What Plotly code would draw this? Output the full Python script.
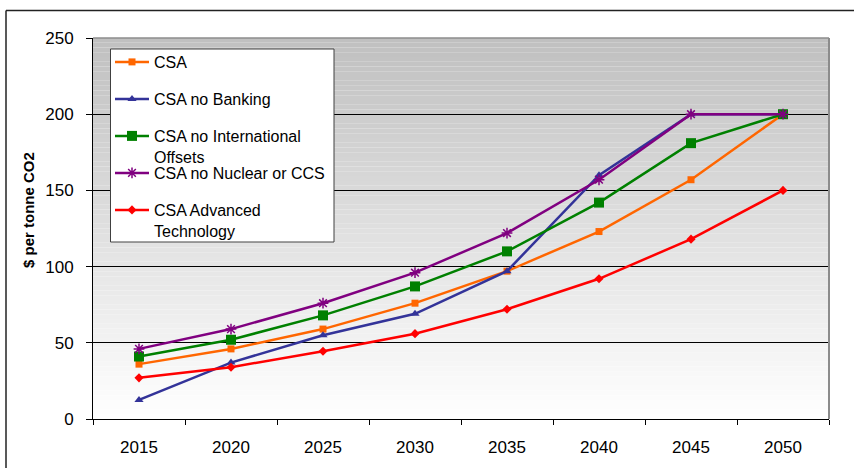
import plotly.graph_objects as go

# Carbon price paths by scenario ($ per tonne CO2)
years = ["2015", "2020", "2025", "2030", "2035", "2040", "2045", "2050"]
csa = [36, 46, 59, 76, 97, 123, 157, 200]
csa_no_banking = [12.5, 37, 55, 69, 97, 160, 200, 200]
csa_no_intl_offsets = [41, 52, 68, 87, 110, 142, 181, 200]
csa_no_nuclear_ccs = [46, 59, 76, 96, 122, 157, 200, 200]
csa_advanced_tech = [27, 34, 44.5, 56, 72, 92, 118, 150]

series_names = [
    "CSA",
    "CSA no Banking",
    "CSA no International<br>Offsets",
    "CSA no Nuclear or CCS",
    "CSA Advanced<br>Technology",
]
series_values = [csa, csa_no_banking, csa_no_intl_offsets, csa_no_nuclear_ccs, csa_advanced_tech]
series_colors = ["#FF6600", "#333399", "#008000", "#800080", "#FF0000"]
series_symbols = ["square", "triangle-up", "square", "asterisk-open", "diamond"]
series_sizes = [7, 8, 10, 9, 7]

W, H = 854, 468
ML, MR, MT, MB = 93, 25, 38, 49
PW, PH = W - ML - MR, H - MT - MB


def px_x(x):
    return (x - ML) / PW


def px_y(y):
    return (H - MB - y) / PH


fig = go.Figure()

legend_ids = ["legend", "legend2", "legend3", "legend4", "legend5"]
for name, vals, col, sym, size, lg in zip(series_names, series_values, series_colors,
                                          series_symbols, series_sizes, legend_ids):
    fig.add_trace(go.Scatter(
        x=years, y=vals, name=name, mode="lines+markers",
        line=dict(color=col, width=2.5),
        marker=dict(symbol=sym, size=size, color=col,
                    line=dict(color=col, width=1.5 if sym == "asterisk-open" else 0)),
        legend=lg, showlegend=True,
    ))

# Vertical grey-to-white gradient behind the plot area
shapes = []
n_bands = 80
for i in range(n_bands):
    t = i / (n_bands - 1)
    g = int(round(192 + (255 - 192) * t))
    shapes.append(dict(
        type="rect", xref="paper", yref="paper", layer="below",
        x0=0, x1=1, y0=1 - (i + 1) / n_bands, y1=1 - i / n_bands,
        fillcolor=f"rgb({g},{g},{g})", line=dict(width=0),
    ))

# Plot-area top and right borders
shapes.append(dict(type="line", xref="paper", yref="paper", x0=0, x1=1, y0=1, y1=1,
                   line=dict(color="#8c8c8c", width=1.5)))
shapes.append(dict(type="line", xref="paper", yref="paper", x0=1, x1=1, y0=0, y1=1,
                   line=dict(color="#8c8c8c", width=2)))

# Legend box
shapes.append(dict(type="rect", xref="paper", yref="paper", layer="above",
                   x0=px_x(110.5), x1=px_x(334), y0=px_y(242), y1=px_y(49),
                   fillcolor="white", line=dict(color="#404040", width=1)))

# Chart frame
shapes.append(dict(type="line", xref="paper", yref="paper",
                   x0=px_x(6), x1=px_x(W + 5), y0=px_y(10.5), y1=px_y(10.5),
                   line=dict(color="#222222", width=1.5)))
shapes.append(dict(type="line", xref="paper", yref="paper",
                   x0=px_x(6), x1=px_x(6), y0=px_y(10.5), y1=px_y(H + 5),
                   line=dict(color="#222222", width=1.5)))

font = dict(family="Liberation Sans, Arial, sans-serif", size=16, color="black")
tick_font = dict(family="Liberation Sans, Arial, sans-serif", size=17, color="black")

layout_legends = {}
legend_tops = [45, 82, 119, 156, 193]
for lg, top in zip(legend_ids, legend_tops):
    layout_legends[lg] = dict(
        x=px_x(110), y=px_y(top), xanchor="left", yanchor="top",
        bgcolor="rgba(0,0,0,0)", borderwidth=0, font=font,
        valign="top", itemwidth=34,
    )

fig.update_layout(
    width=W, height=H,
    margin=dict(l=ML, r=MR, t=MT, b=MB),
    paper_bgcolor="white",
    plot_bgcolor="white",
    font=font,
    shapes=shapes,
    annotations=[dict(
        text="<b>$ per tonne CO2</b>", textangle=-90, showarrow=False,
        xref="paper", yref="paper", x=px_x(28), y=px_y(210),
        xanchor="center", yanchor="middle",
        font=dict(family="Liberation Sans, Arial, sans-serif", size=15, color="black"),
    )],
    **layout_legends,
)

fig.update_xaxes(
    type="category", range=[-0.5, 7.5],
    showgrid=False, showline=True, linecolor="black", linewidth=1,
    ticks="outside", tickson="boundaries", ticklen=5, tickcolor="black",
    ticklabelstandoff=13, tickfont=tick_font,
)
fig.update_yaxes(
    range=[0, 250], dtick=50,
    showgrid=True, gridcolor="black", gridwidth=1,
    zeroline=False,
    showline=True, linecolor="black", linewidth=1,
    ticks="outside", ticklen=6, tickcolor="black",
    ticklabelstandoff=9, tickfont=tick_font,
)

fig.write_html("out.html")
